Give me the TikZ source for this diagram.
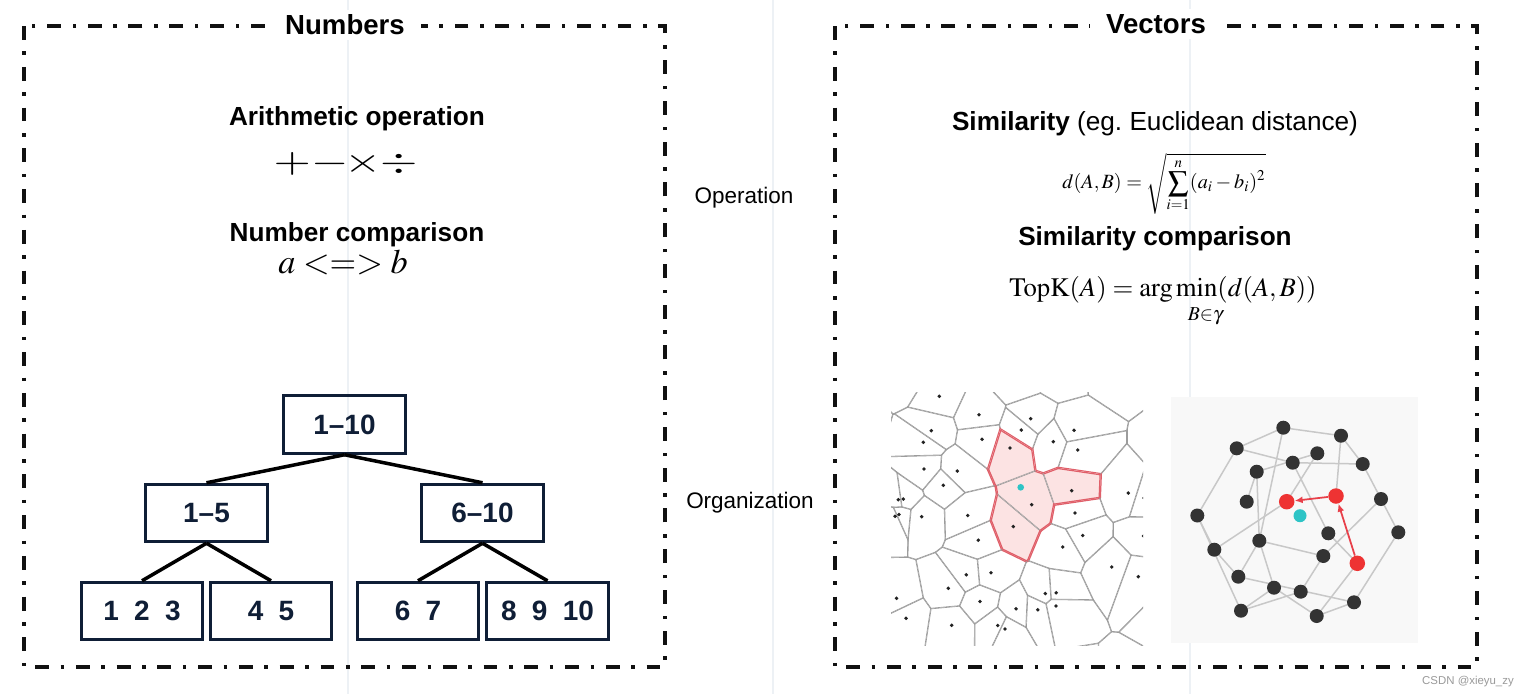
\documentclass[tikz,border=0pt]{standalone}
\usepackage{mathptmx}
\usepackage[no-math]{fontspec}
\setmainfont{Liberation Sans}
\usetikzlibrary{calc,arrows.meta}
\pgfdeclarelayer{back}
\pgfsetlayers{back,main}
\definecolor{framec}{HTML}{111111}
\definecolor{treec}{HTML}{0F1E36}
\definecolor{vgrayc}{HTML}{9C9C9C}
\definecolor{vredc}{HTML}{E0606A}
\definecolor{vpinkc}{HTML}{FCE3E3}
\definecolor{dotc}{HTML}{222222}
\definecolor{cyanc}{HTML}{2EC4C6}
\definecolor{gnodec}{HTML}{333333}
\definecolor{rnodec}{HTML}{EE3333}
\definecolor{gedgec}{HTML}{C8C8C8}
\definecolor{gbgc}{HTML}{F8F8F8}
\definecolor{rarrowc}{HTML}{E8404A}
\definecolor{wmc}{HTML}{9A9A9A}
\definecolor{faintc}{HTML}{EDF1F5}
\tikzset{
  frame/.style={draw=framec, line width=2pt, dash pattern=on 7.9pt off 6.6pt on 2pt off 6.7pt},
  titlec/.style={fill=white, inner xsep=9pt, inner ysep=3pt, font=\fontsize{15.7pt}{18pt}\selectfont\bfseries},
  heading/.style={font=\fontsize{14.9pt}{17pt}\selectfont\bfseries, inner sep=0pt, anchor=base},
  sidelabel/.style={font=\fontsize{12.8pt}{15pt}\selectfont, inner sep=0pt, anchor=base},
  mathbig/.style={font=\fontsize{19.5pt}{22pt}\selectfont, inner sep=0pt},
  treebox/.style={draw=treec, line width=1.7pt, minimum width=2.44cm, minimum height=1.15cm, inner sep=0pt, font=\fontsize{15.9pt}{18pt}\selectfont\bfseries, text=treec},
  treeedge/.style={draw=black, line width=2pt},
  vgray/.style={draw=vgrayc, line width=0.75pt},
  vred/.style={draw=vredc, line width=1.4pt},
  gnode/.style={circle, fill=gnodec, minimum size=0.28cm, inner sep=0pt},
  rnode/.style={circle, fill=rnodec, minimum size=0.31cm, inner sep=0pt},
  cnode/.style={circle, fill=cyanc, minimum size=0.26cm, inner sep=0pt},
  gedge/.style={draw=gedgec, line width=0.85pt},
  rarrow/.style={draw=rarrowc, line width=1pt, -{Latex[length=4.5pt,width=4pt]}},
  faintline/.style={draw=faintc, line width=0.6pt}
}
\newcommand\vorseeds{%
939.3/396.3/0/1, 979/414.7/0/1, 1030.7/418.7/0/1, 931.3/430.7/0/1, 1021.3/430/0/1,
1074/430.3/0/1, 923.3/442.3/0/1, 982/439.3/0/1, 1053.3/441.7/0/1, 1077.7/450/0/1,
1010/448/1/1, 924/469/0/1, 957.3/471/0/1, 943.3/485.3/0/1, 1071.7/490.7/1/1,
1128.3/493/0/1, 1031.7/504.7/1/1, 898.3/499.7/0/1, 903.3/499/0/1, 895/516.3/0/1,
899/514.5/0/1, 921.7/516.7/0/1, 967.7/515.5/0/1, 1075/513/0/1, 1013.3/526.5/1/1,
1082.7/535.5/0/1, 978.3/540.2/0/1, 1062.7/547/0/1, 1111.7/567/0/1, 1138.3/576.7/0/1,
966.3/574.8/0/1, 991/572.7/0/1, 948.3/588.3/0/1, 1045.3/593.5/0/1, 1056.2/592.8/0/1,
1056/606/0/1, 896.5/598.3/0/1, 980/601.5/0/1, 1016/608.8/0/1, 1037.8/609.8/0/1,
906/618.3/0/1, 951.7/625.3/0/1, 997.7/625.5/0/1, 1005/629/0/1, 1144/498/0/1,
1143.5/536/0/1,
903/374/0/0, 1017/379/0/0, 1058/372/0/0, 1115/368/0/0, 962/350/0/0,
1176/450/0/0, 1180/530/0/0, 1174/612/0/0,
930/692/0/0, 1000/694/0/0, 1070/692/0/0, 1130/690/0/0,
852/420/0/0, 850/520/0/0, 852/620/0/0}
\begin{document}
\begin{tikzpicture}[x=0.02cm,y=-0.02cm]
\useasboundingbox (0,0) rectangle (1532,694);
\begin{pgfonlayer}{back}
  \fill[white] (0,0) rectangle (1532,694);
  \draw[faintline] (348,0) -- (348,694);
  \draw[faintline] (773,0) -- (773,694);
  \draw[faintline] (1190,0) -- (1190,694);
  \fill[gbgc] (1171,397) rectangle (1418,643);
\end{pgfonlayer}

% frames and titles
\draw[frame] (24,26) rectangle (665,667);
\draw[frame] (835,26) rectangle (1477,667);
\node[titlec] (tnum) at (345,25) {Numbers};
\node[titlec] (tvec) at (1156,24) {Vectors};

% left texts
\node[heading] (arith) at (357,125) {Arithmetic operation};
\node[mathbig] (plus) at (292.3,163.7) {\scalebox{1.4}[1]{$+$}};
\node[mathbig] (minus) at (330,163.7) {\scalebox{1.4}[1]{$-$}};
\node[mathbig] (times) at (363.3,163.7) {\scalebox{1.4}[1]{$\times$}};
\node[mathbig] (divi) at (398.7,163.7) {\scalebox{1.4}[1]{$\div$}};
\node[heading] (numcmp) at (357,241) {Number comparison};
\node[font=\fontsize{19.5pt}{24pt}\selectfont, inner sep=0pt, anchor=base] (cmp) at (343,273) {$a <=> b$};

% side labels
\node[sidelabel] (oper) at (744,203) {Operation};
\node[sidelabel] (orga) at (750,508) {Organization};

% right texts
\node[heading] (simil) at (1155,130) {Similarity {\mdseries (eg.\ Euclidean distance)}};
\node[font=\fontsize{11.5pt}{14pt}\selectfont, inner sep=0pt] (dform) at (1164,184) {$d(A,B)=\sqrt{\displaystyle\sum_{i=1}^{n}(a_i-b_i)^2}$};
\node[heading] (simcmp) at (1155,245) {Similarity comparison};
\node[font=\fontsize{15.2pt}{17pt}\selectfont, inner sep=0pt, anchor=base] (topk) at (1163,296) {$\mathrm{TopK}(A)=\arg\min\limits_{\raisebox{-5pt}{\makebox[0pt]{\hspace{10pt}$\scriptstyle B\in\gamma$}}}(d(A,B))$};

% tree
\node[treebox] (root) at (344.5,424.5) {1--10};
\node[treebox] (ml) at (206.5,513) {1--5};
\node[treebox] (mr) at (482.5,513) {6--10};
\node[treebox] (l1) at (142,611) {1\hspace{0.55em}2\hspace{0.55em}3};
\node[treebox] (l2) at (271,611) {4\hspace{0.55em}5};
\node[treebox] (l3) at (418,611) {6\hspace{0.55em}7};
\node[treebox] (l4) at (547.5,611) {8\hspace{0.55em}9\hspace{0.55em}10};
\draw[treeedge] (root.south) -- (ml.north);
\draw[treeedge] (root.south) -- (mr.north);
\draw[treeedge] (ml.south) -- (l1.north);
\draw[treeedge] (ml.south) -- (l2.north);
\draw[treeedge] (mr.south) -- (l3.north);
\draw[treeedge] (mr.south) -- (l4.north);

% Voronoi diagram
\begin{scope}
  \clip (891,392) rectangle (1143,645);
  \foreach \ax/\ay/\ah/\av in \vorseeds {
    \begin{scope}
      \foreach \bx/\by/\bh/\bv in \vorseeds {
        \pgfmathsetmacro\vdist{veclen(\bx-\ax,\by-\ay)}
        \pgfmathtruncatemacro\vnear{(\vdist>0.01)&&(\vdist<150)}
        \ifnum\vnear=1
          \coordinate (vm) at ($(\ax,\ay)!0.5!(\bx,\by)$);
          \coordinate (vb) at (\bx,\by);
          \clip ($(vm)!20cm!90:(vb)$) -- ($(vm)!20cm!180:(vb)$) -- ($(vm)!20cm!-90:(vb)$) -- cycle;
        \fi
      }
      \ifnum\ah=1 \fill[vpinkc] (891,392) rectangle (1143,645);\fi
      \foreach \bx/\by/\bh/\bv in \vorseeds {
        \pgfmathsetmacro\vdist{veclen(\bx-\ax,\by-\ay)}
        \pgfmathtruncatemacro\vnear{(\vdist>0.01)&&(\vdist<150)}
        \ifnum\vnear=1
          \coordinate (vm) at ($(\ax,\ay)!0.5!(\bx,\by)$);
          \coordinate (vb) at (\bx,\by);
          \ifnum\ah=\bh
            \draw[vgray] ($(vm)!20cm!90:(vb)$) -- ($(vm)!20cm!-90:(vb)$);
          \else
            \draw[vred] ($(vm)!20cm!90:(vb)$) -- ($(vm)!20cm!-90:(vb)$);
          \fi
        \fi
      }
    \end{scope}
  }
  \foreach \ax/\ay/\ah/\av in \vorseeds {
    \ifnum\av=1 \fill[dotc] (\ax,\ay) circle (1.1pt);\fi
  }
  \fill[cyanc] (1020.7,487.3) circle (1.9pt);
\end{scope}

% graph
\node[gnode] (g1) at (1283.3,427.7) {};
\node[gnode] (g2) at (1341,435.7) {};
\node[gnode] (g3) at (1236.7,448.3) {};
\node[gnode] (g4) at (1317.3,453.3) {};
\node[gnode] (g5) at (1292.7,462.7) {};
\node[gnode] (g6) at (1362.7,464) {};
\node[gnode] (g7) at (1256.7,471.7) {};
\node[gnode] (g8) at (1381,499) {};
\node[gnode] (g9) at (1246.7,501.7) {};
\node[gnode] (g10) at (1197.3,515.5) {};
\node[gnode] (g11) at (1398.3,532.3) {};
\node[gnode] (g12) at (1328.3,533.3) {};
\node[gnode] (g13) at (1259.3,540.7) {};
\node[gnode] (g14) at (1214.3,549.7) {};
\node[gnode] (g15) at (1323.3,556) {};
\node[gnode] (g16) at (1238.3,576.7) {};
\node[gnode] (g17) at (1274,587.7) {};
\node[gnode] (g18) at (1300.7,591.7) {};
\node[gnode] (g19) at (1354,602.3) {};
\node[gnode] (g20) at (1241,610.7) {};
\node[gnode] (g21) at (1316.7,616) {};
\node[rnode] (r1) at (1286.7,501.7) {};
\node[rnode] (r2) at (1336,496) {};
\node[rnode] (r3) at (1357.3,563.3) {};
\node[cnode] (cq) at (1300,515.7) {};
\begin{pgfonlayer}{back}
  \foreach \a/\b in {g1/g2, g1/g3, g1/g13, g3/g5, g5/g6, g7/g4, g4/r1, g5/g12, g2/r2, g2/g6,
    g6/g8, g8/g15, g8/g11, g3/g10, g7/g9, g7/g13, r1/g14, g10/g14, g10/g20, g14/g16,
    g13/g16, g13/g15, g13/g17, g12/r3, g15/g18, g18/g20, g17/g20, g16/g19, g17/g21,
    g19/g21, r3/g21, g11/g19}
    \draw[gedge] (\a.center) -- (\b.center);
\end{pgfonlayer}
\draw[rarrow] (r3) -- (r2);
\draw[rarrow] (r2) -- (r1);

% watermark
\node[font=\fontsize{6.5pt}{8pt}\selectfont, text=wmc, inner sep=0pt, anchor=base] (wm) at (1468,684) {CSDN @xieyu\_zy};
\end{tikzpicture}
\end{document}
